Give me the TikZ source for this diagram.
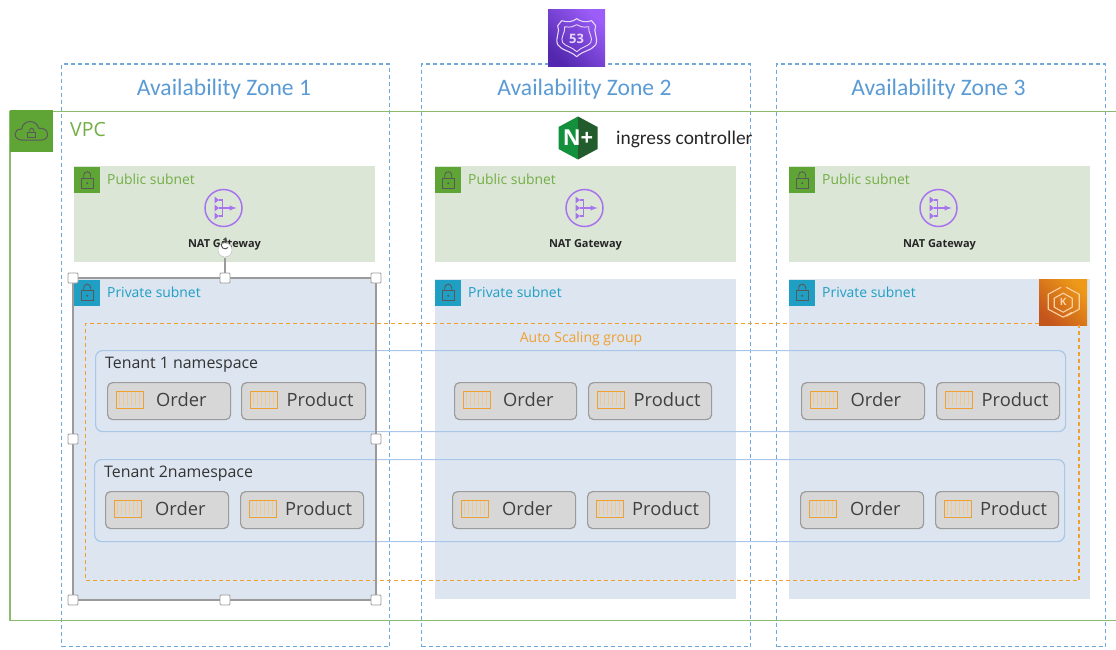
\documentclass[tikz,border=0pt]{standalone}
\usepackage{fontspec}
\setmainfont{Carlito}
\newfontfamily\uifont{Open Sans}
\definecolor{azblue}{HTML}{6FA8DC}
\definecolor{azText}{HTML}{5B9BD5}
\definecolor{vpcline}{HTML}{8CBB6C}
\definecolor{grn}{HTML}{5FA535}
\definecolor{grntxt}{HTML}{72AE45}
\definecolor{pubfill}{HTML}{DCE6D7}
\definecolor{privfill}{HTML}{DCE5F0}
\definecolor{tealbox}{HTML}{1F9FC4}
\definecolor{orng}{HTML}{F0A030}
\definecolor{stripe}{HTML}{F3C98A}
\definecolor{tenline}{HTML}{A9C7E8}
\definecolor{podfill}{HTML}{D7D7D7}
\definecolor{podline}{HTML}{9B9B9B}
\definecolor{purp}{HTML}{A874EE}
\definecolor{selline}{HTML}{9A9A9A}
\definecolor{rdark}{HTML}{5228AE}
\definecolor{rlight}{HTML}{9C5DF8}
\definecolor{edark}{HTML}{C4561C}
\definecolor{elight}{HTML}{EE9A18}
\definecolor{ngxa}{HTML}{12903C}
\definecolor{ngxb}{HTML}{235C2C}
\tikzset{
  azbox/.style={draw=azblue,line width=1.3pt,dash pattern=on 4pt off 3pt,inner sep=0pt},
  aztext/.style={text=azText,font=\fontsize{23.6}{24}\selectfont,inner sep=0pt},
  pubbox/.style={fill=pubfill,draw=none,inner sep=0pt},
  privbox/.style={fill=privfill,draw=none,inner sep=0pt},
  sqicon/.style={draw=none,inner sep=0pt,minimum size=26pt},
  sublabel/.style={font=\uifont\fontsize{13.9}{14}\selectfont,inner sep=0pt,anchor=west},
  natlabel/.style={font=\uifont\bfseries\fontsize{11}{11}\selectfont,text=black!85,inner sep=0pt},
  pod/.style={fill=podfill,draw=podline,line width=1.2pt,rounded corners=5pt,minimum height=37pt,inner sep=0pt},
  podtext/.style={font=\uifont\fontsize{18.3}{19}\selectfont,text=black!75,inner sep=0pt,anchor=west},
  tenant/.style={draw=tenline,line width=1.2pt,rounded corners=7pt,inner sep=0pt},
  tenlabel/.style={font=\uifont\fontsize{15.9}{16}\selectfont,text=black!80,inner sep=0pt,anchor=west},
  handle/.style={fill=white,draw=selline,line width=.8pt,minimum size=10pt,inner sep=0pt,rounded corners=1pt},
  iconline/.style={white!72!purp,line width=1.1pt,line join=round},
  eksline/.style={white!65!orange,line width=1.1pt,line join=round},
}
\newcommand{\bx}[6]{\node[#2,anchor=north west,minimum width=#5pt-#3pt,minimum height=#6pt-#4pt] (#1) at (#3,#4) {};}
\newcommand{\lockglyph}[1]{%
  \draw[black!65,line width=.9pt] ([shift={(-6,-2)}]#1.center) rectangle ([shift={(6,8)}]#1.center);
  \draw[black!65,line width=.9pt] ([shift={(-3.5,-2)}]#1.center) -- ([shift={(-3.5,-5)}]#1.center) arc[start angle=180,end angle=0,radius=3.5pt] -- ([shift={(3.5,-2)}]#1.center);
  \fill[black!65] ([shift={(0,3)}]#1.center) circle (1.1pt);
}
\newcommand{\subnets}[3]{%
  \bx{pub#1}{pubbox}{#2}{166}{#3}{262}
  \node[sqicon,fill=grn,anchor=north west] (publock#1) at (#2,167) {};
  \lockglyph{publock#1}
  \node[sublabel,text=grntxt] (publab#1) at (#2+33,179.5) {Public subnet};
  \node[circle,draw=purp,line width=1.5pt,minimum size=37pt,inner sep=0pt] (nat#1) at ({(#2+#3)/2-1},208) {};
  \draw[purp,line width=1.4pt] ([shift={(-5,-8)}]nat#1.center) -- ([shift={(-1,-8)}]nat#1.center) -- ([shift={(-1,8)}]nat#1.center) -- ([shift={(-5,8)}]nat#1.center);
  \draw[purp,line width=1.4pt,-latex] ([shift={(-5,0)}]nat#1.center) -- ([shift={(13,0)}]nat#1.center);
  \foreach \dy in {-8,0,8}{\fill[purp] ([shift={(-9,\dy-3.5)}]nat#1.center) -- ([shift={(-4.5,\dy)}]nat#1.center) -- ([shift={(-9,\dy+3.5)}]nat#1.center) -- cycle;}
  \node[natlabel] (natlab#1) at ({(#2+#3)/2},244.5) {NAT Gateway};
  \bx{priv#1}{privbox}{#2}{279}{#3}{599}
  \node[sqicon,fill=tealbox,anchor=north west] (privlock#1) at (#2,279.5) {};
  \lockglyph{privlock#1}
  \node[sublabel,text=tealbox] (privlab#1) at (#2+33,292.5) {Private subnet};
}
\newcommand{\mypod}[6]{%
  \node[pod,anchor=north west,minimum width=#3pt-#2pt-1pt] (#1) at (#2,#4) {};
  \node[draw=orng,line width=1.3pt,anchor=north west,minimum width=27pt,minimum height=17pt,inner sep=0pt,fill=podfill] (#1c) at (#2+8.5,#4+8.5) {};
  \foreach \i in {4,8,...,24}{\draw[stripe,line width=1.1pt] ([shift={(\i,1.5)}]#1c.north west) -- ([shift={(\i,15.5)}]#1c.north west);}
  \node[podtext] (#1t) at (#2+#6,#4+18) {#5};
}
\begin{document}
\begin{tikzpicture}[x=1pt,y=-1pt]
\useasboundingbox (0,0) rectangle (1116,650);
\fill[white] (0,0) rectangle (1116,650);
% availability zones
\bx{az1}{azbox}{61}{63.5}{389}{646}
\bx{az2}{azbox}{421}{63.5}{750}{646}
\bx{az3}{azbox}{776}{63.5}{1105}{646}
\node[aztext] (az1t) at (224,89) {Availability Zone 1};
\node[aztext] (az2t) at (584.5,89) {Availability Zone 2};
\node[aztext] (az3t) at (938.5,89) {Availability Zone 3};
% VPC
\draw[vpcline,line width=1.8pt] (1116,111.5) -- (10,111.5) -- (10,620.5) -- (1116,620.5);
\node[draw=none,fill=grn,anchor=north west,minimum width=43pt,minimum height=42pt,inner sep=0pt] (vpcicon) at (10,110) {};
\draw[black!65,line width=1pt] ([shift={(-9,9)}]vpcicon.center) .. controls ([shift={(-19,9)}]vpcicon.center) and ([shift={(-19,-3)}]vpcicon.center) .. ([shift={(-10,-2)}]vpcicon.center) .. controls ([shift={(-9,-12)}]vpcicon.center) and ([shift={(5,-12)}]vpcicon.center) .. ([shift={(7,-3)}]vpcicon.center) .. controls ([shift={(18,-4)}]vpcicon.center) and ([shift={(19,9)}]vpcicon.center) .. ([shift={(9,9)}]vpcicon.center) -- cycle;
\draw[black!65,line width=.9pt] ([shift={(-4,1)}]vpcicon.center) rectangle ([shift={(4,6)}]vpcicon.center);
\draw[black!65,line width=.9pt] ([shift={(-2,1)}]vpcicon.center) -- ([shift={(-2,-1)}]vpcicon.center) arc[start angle=180,end angle=0,radius=2pt] -- ([shift={(2,1)}]vpcicon.center);
\node[text=grntxt,font=\uifont\fontsize{19.5}{20}\selectfont,inner sep=0pt,anchor=west] (vpct) at (70,130) {VPC};
% subnets
\subnets{A}{74}{375}
\subnets{B}{435}{736}
\subnets{C}{789}{1090}
% route 53
\node[inner sep=0pt,anchor=north west,minimum width=57pt,minimum height=57pt,left color=rdark,right color=rlight,shading angle=135] (r53) at (548,9) {};
\draw[iconline] ([shift={(-15,-17)}]r53.center) .. controls ([shift={(-9,-15)}]r53.center) and ([shift={(-4,-16)}]r53.center) .. ([shift={(0,-19)}]r53.center) .. controls ([shift={(4,-16)}]r53.center) and ([shift={(9,-15)}]r53.center) .. ([shift={(15,-17)}]r53.center) -- ([shift={(19,-12)}]r53.center) .. controls ([shift={(16,-6)}]r53.center) and ([shift={(22,0)}]r53.center) .. ([shift={(19,7)}]r53.center) .. controls ([shift={(15,13)}]r53.center) and ([shift={(6,13)}]r53.center) .. ([shift={(0,19)}]r53.center) .. controls ([shift={(-6,13)}]r53.center) and ([shift={(-15,13)}]r53.center) .. ([shift={(-19,7)}]r53.center) .. controls ([shift={(-22,0)}]r53.center) and ([shift={(-16,-6)}]r53.center) .. ([shift={(-19,-12)}]r53.center) -- cycle;
\draw[iconline,line width=.9pt] ([shift={(-12,-11)}]r53.center) .. controls ([shift={(-6,-10)}]r53.center) and ([shift={(-3,-11)}]r53.center) .. ([shift={(0,-13)}]r53.center) .. controls ([shift={(3,-11)}]r53.center) and ([shift={(6,-10)}]r53.center) .. ([shift={(12,-11)}]r53.center) .. controls ([shift={(11,-5)}]r53.center) and ([shift={(17,0)}]r53.center) .. ([shift={(14,5)}]r53.center) .. controls ([shift={(11,9)}]r53.center) and ([shift={(5,9)}]r53.center) .. ([shift={(0,14)}]r53.center) .. controls ([shift={(-5,9)}]r53.center) and ([shift={(-11,9)}]r53.center) .. ([shift={(-14,5)}]r53.center) .. controls ([shift={(-17,0)}]r53.center) and ([shift={(-11,-5)}]r53.center) .. cycle;
\node[text=white!72!purp,font=\uifont\bfseries\fontsize{13}{13}\selectfont,inner sep=0pt] (r53t) at (576.5,38.5) {53};
% nginx
\coordinate (ngx) at (578,138);
\fill[ngxa] (578,116.5) -- (558.5,127) -- (558.5,149) -- (578,159.5) -- cycle;
\fill[ngxb] (578,116.5) -- (597.5,127) -- (597.5,149) -- (578,159.5) -- cycle;
\node[text=white,font=\uifont\bfseries\fontsize{22}{22}\selectfont,inner sep=0pt] (ngxt) at (ngx) {N+};
\node[font=\fontsize{19.4}{20}\selectfont,text=black!85,inner sep=0pt,anchor=west] (ingress) at (616,139) {ingress controller};
% EKS
\node[inner sep=0pt,anchor=north west,minimum width=48pt,minimum height=46pt,left color=edark,right color=elight,shading angle=135] (eks) at (1039,279) {};
\draw[eksline] ([shift={(-2,-15)}]eks.center) -- ([shift={(-15,-8)}]eks.center) -- ([shift={(-15,7)}]eks.center) -- ([shift={(0,15)}]eks.center) -- ([shift={(9,10)}]eks.center);
\draw[eksline] ([shift={(3,-15)}]eks.center) -- ([shift={(16,-8)}]eks.center) -- ([shift={(16,7)}]eks.center) -- ([shift={(3,14)}]eks.center);
\draw[eksline] ([shift={(0,-9)}]eks.center) -- ([shift={(-9,-4)}]eks.center) -- ([shift={(-9,5)}]eks.center) -- ([shift={(0,10)}]eks.center) -- ([shift={(9,5)}]eks.center) -- ([shift={(9,-4)}]eks.center) -- cycle;
\node[text=white!65!orange,font=\uifont\bfseries\fontsize{10}{10}\selectfont,inner sep=0pt] (ekst) at (eks.center) {K};
% auto scaling group
\draw[orng,line width=1.4pt,dash pattern=on 4pt off 3pt] (1039,323.5) -- (85.5,323.5) -- (85.5,580.5) -- (1079,580.5) -- (1079,325);
\node[text=orng,font=\uifont\fontsize{14}{14}\selectfont,inner sep=0pt] (asg) at (581,339) {Auto Scaling group};
% tenants
\bx{ten1}{tenant}{95}{350}{1065}{431}
\bx{ten2}{tenant}{94}{459}{1064}{541}
\node[tenlabel] (ten1t) at (105,364.5) {Tenant 1 namespace};
\node[tenlabel] (ten2t) at (104,473.5) {Tenant 2namespace};
% pods
\mypod{oA}{107}{231}{382}{Order}{49}
\mypod{pA}{241}{366}{382}{Product}{45.5}
\mypod{oB}{454}{577}{382}{Order}{49}
\mypod{pB}{588}{712}{382}{Product}{45.5}
\mypod{oC}{801}{925}{382}{Order}{49.5}
\mypod{pC}{936}{1060}{382}{Product}{45.5}
\mypod{qA}{105}{229}{491}{Order}{50}
\mypod{rA}{240}{364}{491}{Product}{45}
\mypod{qB}{452}{576}{491}{Order}{50}
\mypod{rB}{587}{710}{491}{Product}{45}
\mypod{qC}{800}{924}{491}{Order}{50}
\mypod{rC}{935}{1059}{491}{Product}{45}
% selection frame
\draw[selline,line width=1.4pt] (73,278) rectangle (376,600);
\draw[selline,line width=1.2pt] (225,278) -- (225,258);
\node[circle,fill=white,draw=black!25,line width=.5pt,minimum size=14pt,inner sep=0pt] (rot) at (225,250) {};
\draw[black!70,line width=.9pt,->,>=latex] ([shift={(3,-2.5)}]rot.center) arc[start angle=-40,end angle=-320,radius=3.8pt];
\node[handle] (h1) at (73,278) {};
\node[handle] (h2) at (225,278) {};
\node[handle] (h3) at (376,278) {};
\node[handle] (h4) at (73,439) {};
\node[handle] (h5) at (376,439) {};
\node[handle] (h6) at (73,600) {};
\node[handle] (h7) at (225,600) {};
\node[handle] (h8) at (376,600) {};
\end{tikzpicture}
\end{document}
